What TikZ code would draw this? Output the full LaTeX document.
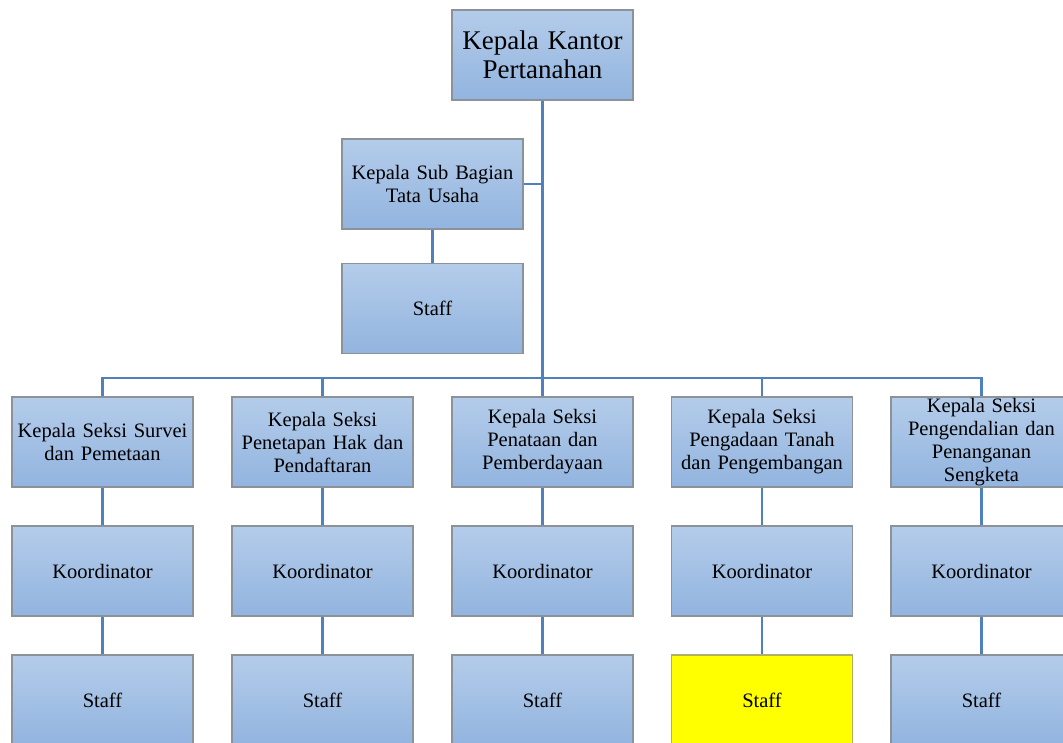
\documentclass[tikz,border=0pt]{standalone}
\usepackage{fontspec}
\setmainfont{Liberation Serif}
\definecolor{boxtop}{HTML}{B4CCEA}
\definecolor{boxbot}{HTML}{92B4DF}
\definecolor{boxline}{HTML}{8C9398}
\definecolor{conn}{HTML}{4F81BD}
\definecolor{hiline}{HTML}{B0AE68}
\tikzset{
  orgbox/.style={draw=boxline, line width=1.6pt, top color=boxtop, bottom color=boxbot,
    minimum width=181pt, minimum height=90pt, text width=178pt, align=center, inner sep=0pt,
    font=\fontsize{20.5}{23}\selectfont},
  bigbox/.style={orgbox, font=\fontsize{27}{28.5}\selectfont},
  hibox/.style={orgbox, fill=yellow, top color=yellow, bottom color=yellow, draw=hiline},
  link/.style={draw=conn, line width=2.6pt}
}
\begin{document}
\begin{tikzpicture}[x=1pt,y=1pt]
\useasboundingbox (0,0) rectangle (1063,-742);
\clip (0,0) rectangle (1063,-742);
\coordinate (bus) at (542.5,-378);
\node[bigbox] (top) at (542.5,-55) {Kepala Kantor\\Pertanahan};
\node[orgbox] (tu) at (432.5,-184) {Kepala Sub Bagian\\Tata Usaha};
\node[orgbox] (tus) at (432.5,-308.5) {Staff};
\node[orgbox] (h1) at (102.5,-442) {Kepala Seksi Survei\\dan Pemetaan};
\node[orgbox] (h2) at (322.5,-442) {Kepala Seksi\\Penetapan Hak dan\\Pendaftaran};
\node[orgbox] (h3) at (542.5,-442) {Kepala Seksi\\Penataan dan\\Pemberdayaan};
\node[orgbox] (h4) at (762,-442) {Kepala Seksi\\Pengadaan Tanah\\dan Pengembangan};
\node[orgbox] (h5) at (981.5,-442) {Kepala Seksi\\Pengendalian dan\\Penanganan\\Sengketa};
\foreach \i/\x in {1/102.5,2/322.5,3/542.5,4/762,5/981.5}{
  \node[orgbox] (k\i) at (\x,-571) {Koordinator};
}
\foreach \i/\x in {1/102.5,2/322.5,3/542.5,5/981.5}{
  \node[orgbox] (s\i) at (\x,-700) {Staff};
}
\node[hibox] (s4) at (762,-700) {Staff};
\draw[link] (top.south) -- (bus);
\draw[link] (tu.east) -- (tu.east -| top.south);
\draw[link] (tu.south) -- (tus.north);
\foreach \i in {1,...,5}{
  \draw[link] (bus) -| (h\i.north);
  \draw[link] (h\i.south) -- (k\i.north);
  \draw[link] (k\i.south) -- (s\i.north);
}
\end{tikzpicture}
\end{document}
